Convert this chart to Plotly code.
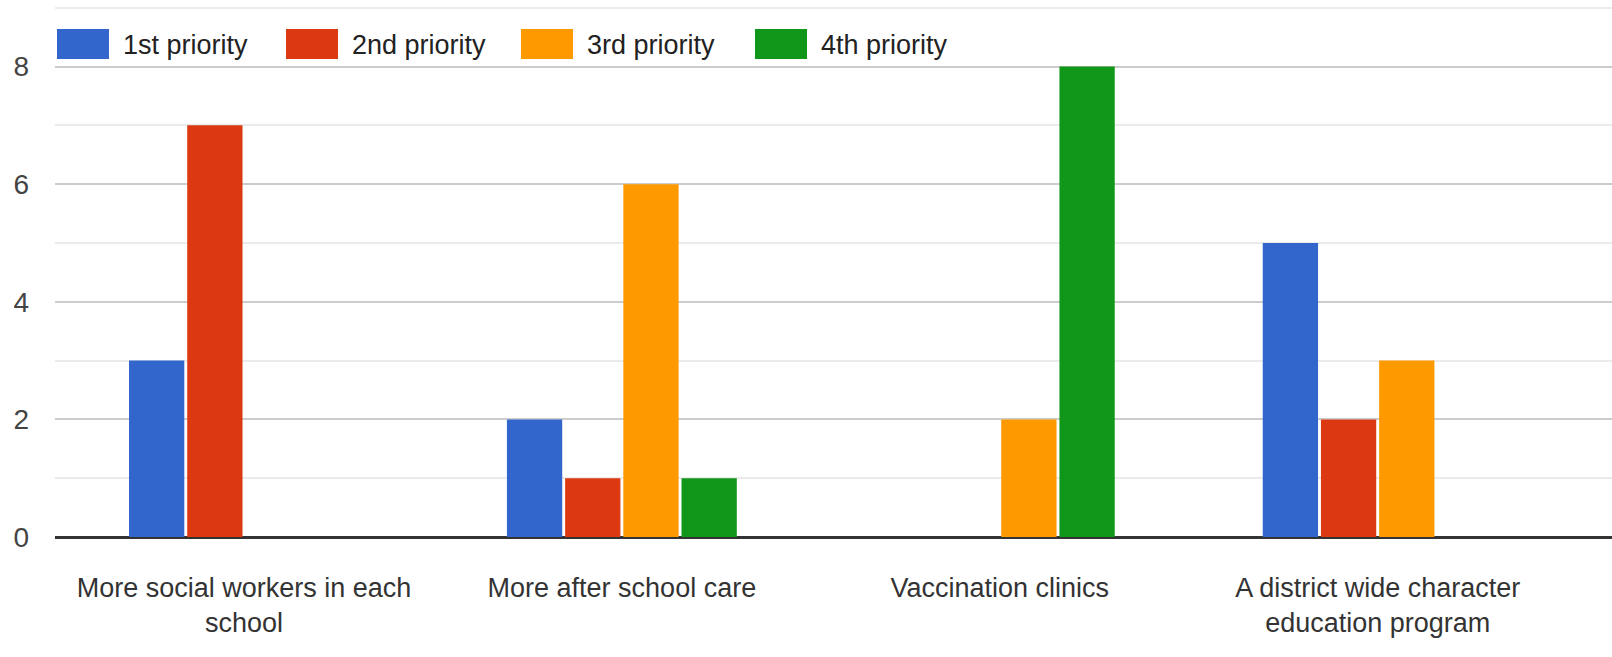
import plotly.graph_objects as go

categories = ["More social workers in each<br>school", "More after school care",
              "Vaccination clinics", "A district wide character<br>education program"]
series_names = ["1st priority", "2nd priority", "3rd priority", "4th priority"]
first = [3, 2, 0, 5]
second = [7, 1, 0, 2]
third = [0, 6, 2, 3]
fourth = [0, 1, 8, 0]
colors = ["#3366cc", "#dc3912", "#ff9900", "#109618"]

FONT = "Liberation Sans, Arial, sans-serif"
W, H = 1612, 657
ML, MR, MT, MB = 55, 0, 6, 120
PW, PH = W - ML - MR, H - MT - MB

fig = go.Figure()
for name, vals, c in zip(series_names, [first, second, third, fourth], colors):
    fig.add_trace(go.Bar(x=list(range(len(categories))), y=vals, name=name,
                         marker=dict(color=c, line=dict(width=0)), showlegend=False))

# custom legend (large swatches like the reference)
def px_x(p):
    return (p - ML) / PW

def px_y(p):
    return (H - MB - p) / PH

legend_x = [57, 286, 521, 755]
for x0, name, c in zip(legend_x, series_names, colors):
    fig.add_shape(type="rect", xref="paper", yref="paper",
                  x0=px_x(x0), x1=px_x(x0 + 52), y0=px_y(59), y1=px_y(29),
                  fillcolor=c, line=dict(width=0), layer="above")
    fig.add_annotation(xref="paper", yref="paper", x=px_x(x0 + 64), y=px_y(45),
                       text=name, showarrow=False, xanchor="left", yanchor="middle",
                       font=dict(family=FONT, size=27, color="#222"))

fig.update_layout(
    width=W, height=H,
    margin=dict(l=ML, r=MR, t=MT, b=MB),
    plot_bgcolor="white", paper_bgcolor="white",
    barmode="group", bargap=0.384, bargroupgap=0.05,
    font=dict(family=FONT, size=27, color="#333"),
    showlegend=False,
)
fig.update_xaxes(
    tickmode="array", tickvals=list(range(len(categories))), ticktext=categories,
    range=[-0.5, 3.62], showgrid=False, showline=False, ticks="",
    tickfont=dict(family=FONT, size=27, color="#333"), ticklabelstandoff=32,
)
fig.update_yaxes(
    range=[0, 9.03], dtick=2, tick0=0, showgrid=True, gridcolor="#cccccc", gridwidth=2,
    zeroline=True, zerolinecolor="#333333", zerolinewidth=3,
    minor=dict(dtick=1, tick0=0, showgrid=True, gridcolor="#ebebeb", gridwidth=2),
    tickfont=dict(family=FONT, size=28, color="#444"), ticks="", ticklabelstandoff=25,
)

fig.write_html("out.html", config={"displayModeBar": False},
               post_script="document.body.style.margin='0';document.body.style.overflow='hidden';")
